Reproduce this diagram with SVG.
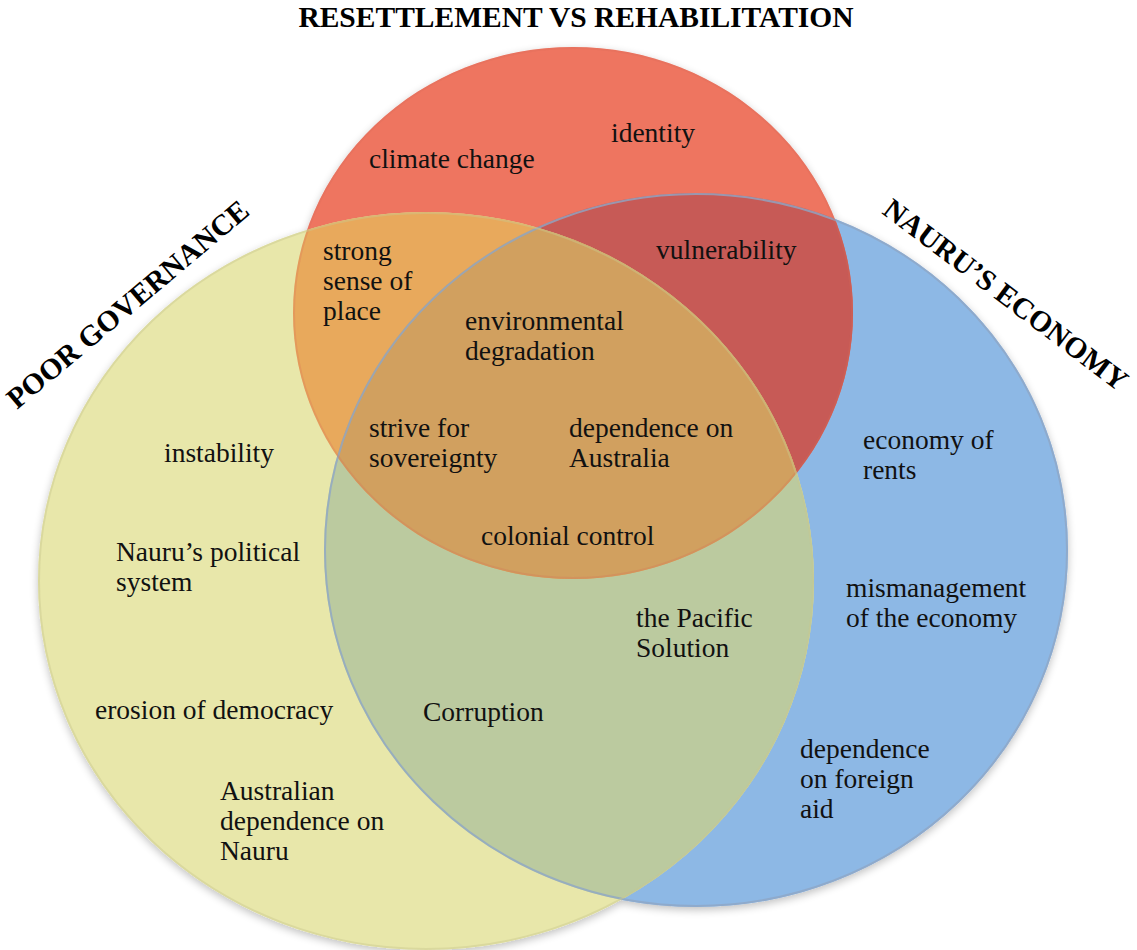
<svg xmlns="http://www.w3.org/2000/svg" width="1137" height="950" viewBox="0 0 1137 950">
  <style>
    .label { font-family: "Liberation Serif", "Times New Roman", serif; font-size: 27.5px; fill: #111; }
    .title { font-family: "Liberation Serif", "Times New Roman", serif; font-size: 29.5px; font-weight: bold; fill: #000; }
    .rim { fill: none; stroke-width: 2; }
  </style>
  <defs>
    <filter id="soft-shadow" x="-10%" y="-10%" width="120%" height="120%">
      <feGaussianBlur in="SourceAlpha" stdDeviation="4"/>
      <feOffset dx="0" dy="3" result="blur"/>
      <feComponentTransfer><feFuncA type="linear" slope="0.25"/></feComponentTransfer>
      <feMerge><feMergeNode/><feMergeNode in="SourceGraphic"/></feMerge>
    </filter>
    <clipPath id="clip-blue"><ellipse cx="696" cy="550" rx="372" ry="357"/></clipPath>
    <clipPath id="clip-yellow"><ellipse cx="426" cy="581" rx="388" ry="369"/></clipPath>
  </defs>

  <rect width="1137" height="950" fill="#ffffff"/>

  <!-- base circles -->
  <g filter="url(#soft-shadow)">
    <g id="circle-economy">
      <ellipse cx="696" cy="550" rx="372" ry="357" fill="#8DB8E5"/>
    </g>
    <g id="circle-resettlement">
      <ellipse cx="573" cy="313" rx="280" ry="266" fill="#EE7460"/>
    </g>
    <g id="circle-governance">
      <ellipse cx="426" cy="581" rx="388" ry="369" fill="#E8E7AA"/>
    </g>
  </g>

  <!-- overlap regions -->
  <g id="overlaps">
    <!-- resettlement and economy -->
    <g clip-path="url(#clip-blue)">
      <ellipse cx="573" cy="313" rx="280" ry="266" fill="#C75A56"/>
    </g>
    <!-- governance and economy -->
    <g clip-path="url(#clip-yellow)">
      <ellipse cx="696" cy="550" rx="372" ry="357" fill="#BBCA9F"/>
    </g>
    <!-- resettlement and governance -->
    <g clip-path="url(#clip-yellow)">
      <ellipse cx="573" cy="313" rx="280" ry="266" fill="#E8A95C"/>
    </g>
    <!-- all three -->
    <g clip-path="url(#clip-yellow)">
      <g clip-path="url(#clip-blue)">
        <ellipse cx="573" cy="313" rx="280" ry="266" fill="#D1A05F"/>
      </g>
    </g>
  </g>

  <!-- circle rims -->
  <g id="rims">
    <ellipse class="rim" cx="696" cy="550" rx="371" ry="356" stroke="#8FA6C6" stroke-opacity="0.8"/>
    <ellipse class="rim" cx="573" cy="313" rx="279" ry="265" stroke="#D86A58" stroke-opacity="0.25"/>
    <ellipse class="rim" cx="426" cy="581" rx="387" ry="368" stroke="#C9C88E" stroke-opacity="0.45"/>
  </g>

  <!-- set titles -->
  <g id="titles" font-family="Liberation Serif, serif">
    <text class="title" x="576" y="27" text-anchor="middle">RESETTLEMENT VS REHABILITATION</text>
    <text class="title" transform="translate(17,410) rotate(-40)">POOR GOVERNANCE</text>
    <text class="title" transform="translate(881,213) rotate(37)">NAURU’S ECONOMY</text>
  </g>

  <!-- region labels -->
  <g id="labels" font-family="Liberation Serif, serif">
    <text class="label" x="369" y="168">climate change</text>
    <text class="label" x="611" y="142">identity</text>
    <text class="label" x="656" y="259">vulnerability</text>
    <text class="label"><tspan x="323" y="260">strong</tspan><tspan x="323" y="290">sense of</tspan><tspan x="323" y="320">place</tspan></text>
    <text class="label"><tspan x="465" y="330">environmental</tspan><tspan x="465" y="360">degradation</tspan></text>
    <text class="label"><tspan x="369" y="437">strive for</tspan><tspan x="369" y="467">sovereignty</tspan></text>
    <text class="label"><tspan x="569" y="437">dependence on</tspan><tspan x="569" y="467">Australia</tspan></text>
    <text class="label" x="481" y="545">colonial control</text>
    <text class="label" x="164" y="462">instability</text>
    <text class="label"><tspan x="116" y="561">Nauru’s political</tspan><tspan x="116" y="591">system</tspan></text>
    <text class="label" x="95" y="719">erosion of democracy</text>
    <text class="label"><tspan x="220" y="800">Australian</tspan><tspan x="220" y="830">dependence on</tspan><tspan x="220" y="860">Nauru</tspan></text>
    <text class="label" x="423" y="721">Corruption</text>
    <text class="label"><tspan x="636" y="627">the Pacific</tspan><tspan x="636" y="657">Solution</tspan></text>
    <text class="label"><tspan x="863" y="449">economy of</tspan><tspan x="863" y="479">rents</tspan></text>
    <text class="label"><tspan x="846" y="597">mismanagement</tspan><tspan x="846" y="627">of the economy</tspan></text>
    <text class="label"><tspan x="800" y="758">dependence</tspan><tspan x="800" y="788">on foreign</tspan><tspan x="800" y="818">aid</tspan></text>
  </g>
</svg>
